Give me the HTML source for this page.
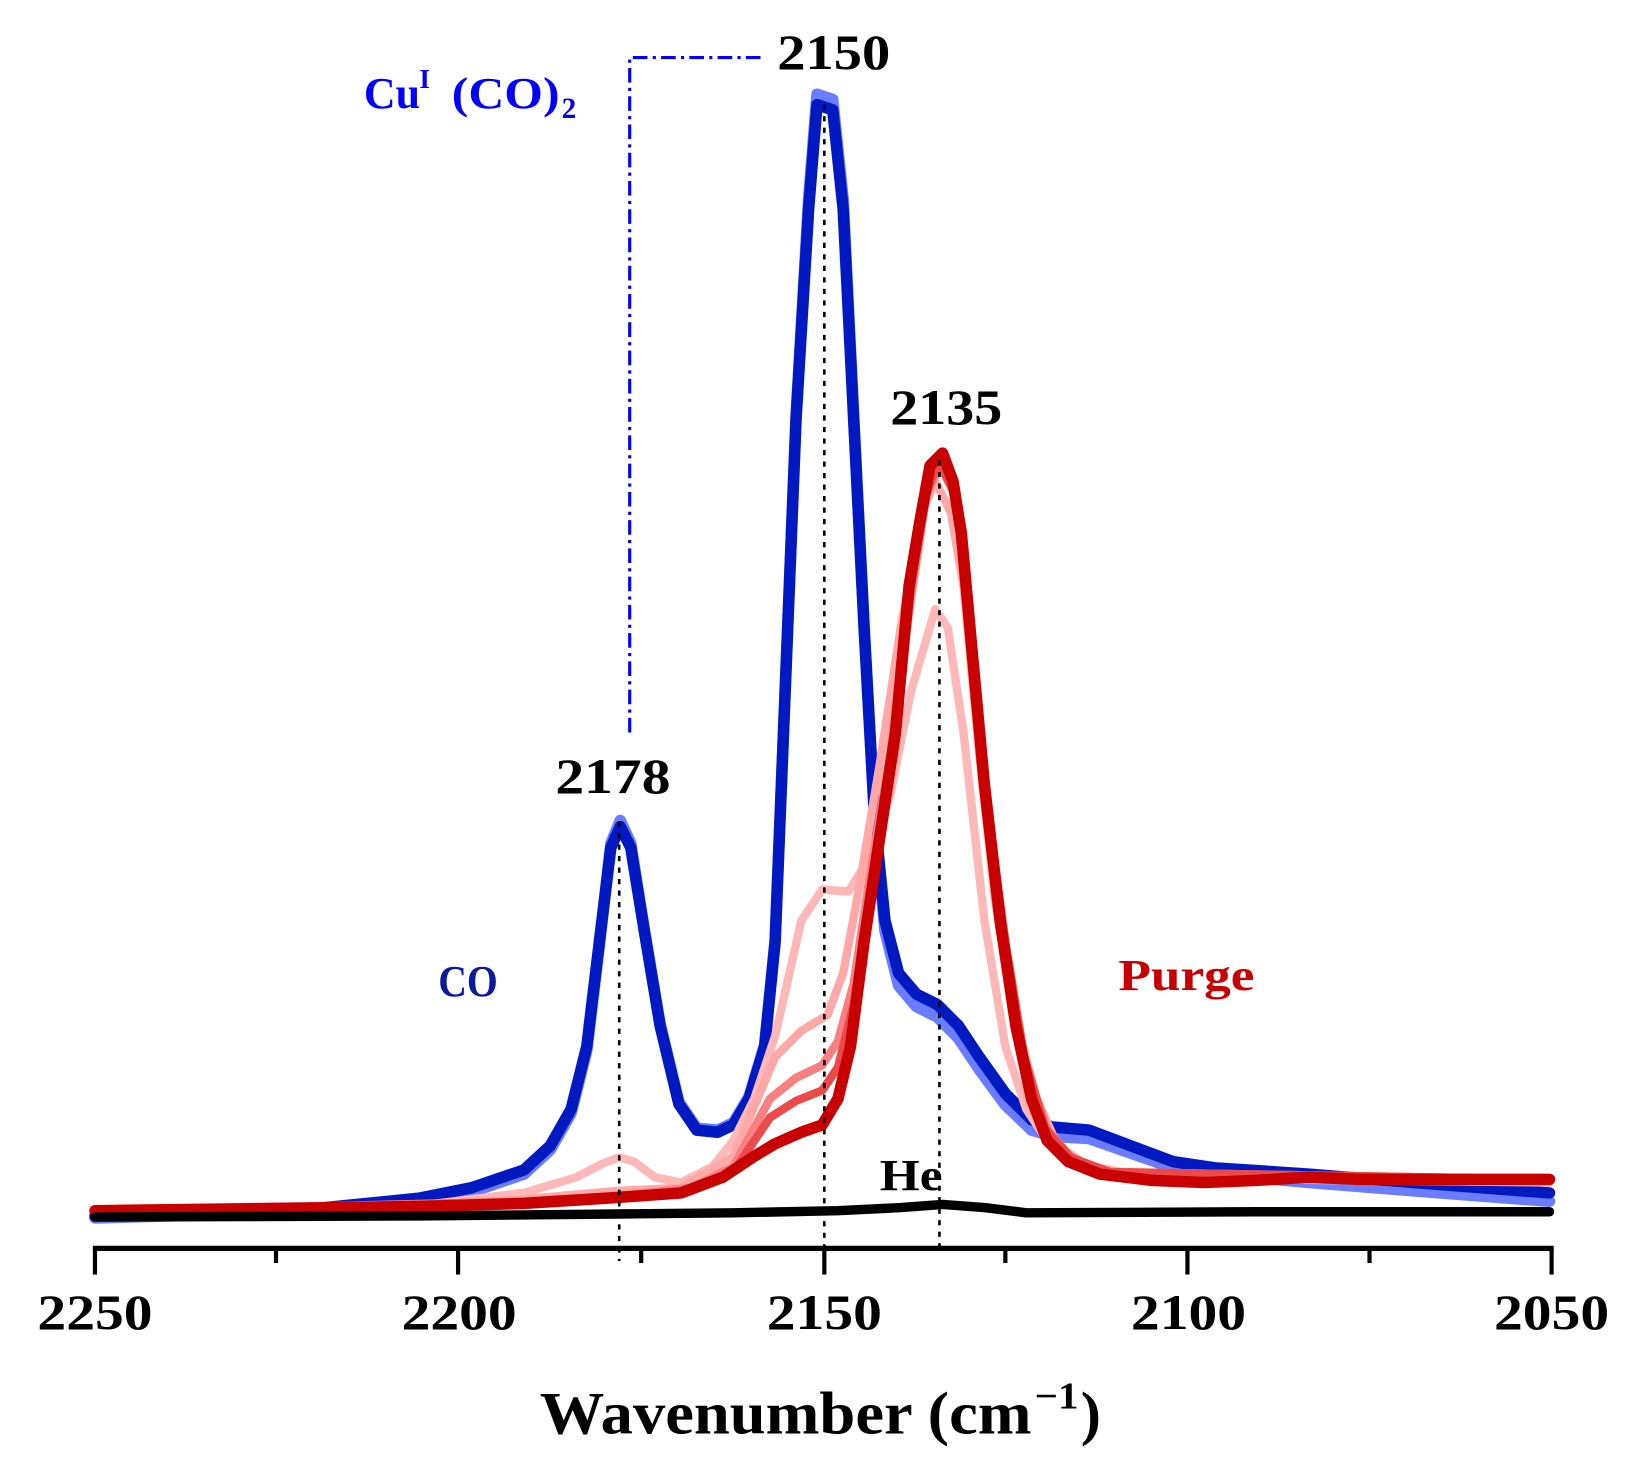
<!DOCTYPE html>
<html><head><meta charset="utf-8"><style>html,body{margin:0;padding:0;background:#fff}svg{display:block}</style></head><body>
<svg width="1634" height="1465" viewBox="0 0 1560 1400" xmlns="http://www.w3.org/2000/svg" font-family="Liberation Serif, serif" font-weight="bold">
<rect width="1560" height="1400" fill="#fff"/>
<g fill="none" stroke-linejoin="round" stroke-linecap="round">
<path stroke="#6a7cff" stroke-width="11" d="M90,1164 L300,1158 L400,1148 L450,1139 L500,1122 L525,1099 L545,1064 L560,1004 L572,904 L583,806 L592,784 L602,806 L615,888 L630,978 L648,1053 L665,1078 L685,1080 L700,1073 L715,1048 L730,998 L740,898 L750,648 L760,398 L772,190 L780,90 L795,95 L805,190 L815,396 L825,598 L835,784 L845,890 L858,942 L875,962 L895,972 L915,992 L935,1022 L960,1056 L985,1080 L1005,1086 L1040,1088 L1080,1102 L1120,1116 L1160,1122 L1250,1130 L1350,1138 L1480,1148"/>
<path stroke="#0019c0" stroke-width="11" d="M90,1162 L300,1155 L400,1145 L450,1135 L500,1118 L525,1095 L545,1060 L560,1000 L572,900 L583,810 L592,790 L602,810 L615,890 L630,980 L648,1055 L665,1080 L685,1082 L700,1075 L715,1050 L730,1000 L740,900 L750,650 L760,400 L772,200 L780,100 L795,105 L805,200 L815,400 L825,600 L835,780 L845,880 L858,930 L875,950 L895,960 L915,980 L935,1010 L960,1045 L985,1070 L1005,1077 L1040,1080 L1080,1095 L1120,1110 L1160,1116 L1250,1122 L1350,1130 L1480,1140"/>
<path stroke="#ffb8b8" stroke-width="8" d="M90,1158 L400,1152 L500,1140 L550,1125 L575,1112 L591,1106 L605,1110 L625,1125 L650,1130 L680,1115 L700,1090 L720,1050 L740,990 L765,880 L785,850 L810,852 L830,820 L850,760 L870,660 L893,582 L905,600 L920,700 L940,880 L960,1000 L980,1060 L1000,1090 L1030,1112 L1080,1122 L1200,1127 L1480,1130"/>
<path stroke="#ffa8a8" stroke-width="8" d="M90,1158 L400,1152 L500,1146 L591,1138 L650,1135 L700,1105 L740,1010 L765,985 L790,970 L805,930 L820,850 L840,730 L860,600 L880,490 L893,460 L908,490 L920,560 L935,720 L950,860 L970,975 L990,1050 L1010,1095 L1040,1115 L1100,1125 L1480,1128"/>
<path stroke="#f88080" stroke-width="8" d="M90,1158 L500,1148 L600,1142 L660,1135 L700,1115 L735,1050 L760,1030 L785,1018 L800,995 L815,940 L830,840 L850,720 L870,570 L885,470 L898,445 L910,470 L920,530 L932,660 L945,800 L962,920 L980,1020 L1000,1080 L1025,1108 L1060,1120 L1480,1127"/>
<path stroke="#ec4a4a" stroke-width="8" d="M90,1158 L500,1149 L600,1144 L660,1138 L700,1120 L735,1068 L760,1052 L785,1042 L800,1020 L815,960 L830,860 L850,740 L868,570 L882,480 L896,440 L910,468 L920,525 L930,640 L944,780 L960,900 L978,1010 L998,1078 L1022,1106 L1060,1120 L1480,1127"/>
<path stroke="#c80000" stroke-width="11" d="M90,1157 L400,1153 L500,1150 L580,1145 L650,1140 L690,1125 L720,1105 L740,1093 L765,1082 L785,1075 L800,1050 L812,1000 L825,900 L840,800 L855,700 L868,560 L878,500 L888,445 L900,433 L910,460 L918,510 L928,620 L940,750 L955,880 L970,980 L985,1050 L1000,1090 L1020,1110 L1050,1122 L1100,1128 L1150,1130 L1200,1128 L1250,1125 L1300,1127 L1480,1127"/>
<path stroke="#000" stroke-width="9" d="M90,1163 L400,1162 L600,1160 L700,1159 L800,1157 L860,1154 L900,1151 L940,1154 L980,1159 L1200,1158 L1480,1158"/>
</g>
<g stroke="#000" stroke-width="2.5" stroke-dasharray="5,6" fill="none">
<line x1="591" y1="785" x2="591" y2="1205"/>
<line x1="787" y1="100" x2="787" y2="1193"/>
<line x1="897" y1="440" x2="897" y2="1193"/>
</g>
<path d="M601,700 L601,55 L728,55" fill="none" stroke="#0000ff" stroke-width="3" stroke-dasharray="14,5,3,5"/>
<line x1="88" y1="1193" x2="1484" y2="1193" stroke="#000" stroke-width="5"/>
<g stroke="#000" stroke-width="4">
<line x1="90" y1="1193" x2="90" y2="1218"/><line x1="437" y1="1193" x2="437" y2="1218"/><line x1="787" y1="1193" x2="787" y2="1218"/><line x1="1134" y1="1193" x2="1134" y2="1218"/><line x1="1482" y1="1193" x2="1482" y2="1218"/>
<line x1="263" y1="1193" x2="263" y2="1207"/><line x1="612" y1="1193" x2="612" y2="1207"/><line x1="960" y1="1193" x2="960" y2="1207"/><line x1="1308" y1="1193" x2="1308" y2="1207"/>
</g>
<g font-size="48" fill="#000">
<text x="35" y="1270" textLength="110" lengthAdjust="spacingAndGlyphs">2250</text>
<text x="383" y="1270" textLength="110" lengthAdjust="spacingAndGlyphs">2200</text>
<text x="732" y="1270" textLength="110" lengthAdjust="spacingAndGlyphs">2150</text>
<text x="1080" y="1270" textLength="110" lengthAdjust="spacingAndGlyphs">2100</text>
<text x="1427" y="1270" textLength="110" lengthAdjust="spacingAndGlyphs">2050</text>
<text x="742" y="66" textLength="108" lengthAdjust="spacingAndGlyphs">2150</text>
<text x="850" y="405" textLength="107" lengthAdjust="spacingAndGlyphs">2135</text>
<text x="530" y="758" textLength="110" lengthAdjust="spacingAndGlyphs">2178</text>
</g>
<text x="515" y="1370" font-size="58" textLength="470" lengthAdjust="spacingAndGlyphs">Wavenumber (cm</text>
<text x="988" y="1346" font-size="36" textLength="42" lengthAdjust="spacingAndGlyphs">−1</text>
<text x="1032" y="1370" font-size="58">)</text>
<text x="347" y="103" font-size="42" fill="#0000ff">Cu</text>
<text x="400" y="84" font-size="26" fill="#0000ff">I</text>
<text x="431" y="103" font-size="42" fill="#0000ff" textLength="103" lengthAdjust="spacingAndGlyphs">(CO)</text>
<text x="536" y="113" font-size="28" fill="#0000ff">2</text>
<text x="418" y="952" font-size="42" fill="#0a1a9a" textLength="57" lengthAdjust="spacingAndGlyphs">CO</text>
<text x="1068" y="946" font-size="42" fill="#c80000" textLength="130" lengthAdjust="spacingAndGlyphs">Purge</text>
<text x="840" y="1137" font-size="42" fill="#000" textLength="60" lengthAdjust="spacingAndGlyphs">He</text>
</svg>
</body></html>
